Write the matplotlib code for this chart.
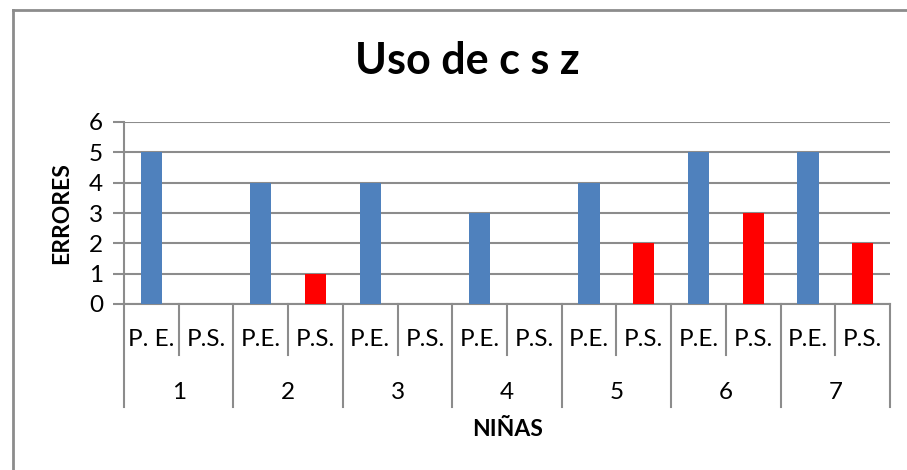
import matplotlib
matplotlib.use('Agg')
import matplotlib.pyplot as plt
from matplotlib.lines import Line2D

plt.rcParams['font.family'] = ['Lato', 'DejaVu Sans']

# Datos
ninas = ['1', '2', '3', '4', '5', '6', '7']
etiquetas = ['P. E.', 'P.S.', 'P.E.', 'P.S.', 'P.E.', 'P.S.', 'P.E.', 'P.S.',
             'P.E.', 'P.S.', 'P.E.', 'P.S.', 'P.E.', 'P.S.']
errores_pe = [5, 4, 4, 3, 4, 5, 5]
errores_ps = [0, 1, 0, 0, 2, 3, 2]

azul = '#4F81BD'
rojo = '#FF0000'
gris = '#8C8C8C'

W, H = 907, 470
fig = plt.figure(figsize=(W / 100, H / 100), dpi=100)

# plot area in pixels
x0, x1 = 124, 890
y_top, y_bot = 122, 304
ax = fig.add_axes([x0 / W, 1 - y_bot / H, (x1 - x0) / W, (y_bot - y_top) / H])

valores = []
colores = []
for pe, ps in zip(errores_pe, errores_ps):
    valores += [pe, ps]
    colores += [azul, rojo]

x = range(len(valores))
ax.bar(x, valores, width=0.39, color=colores, zorder=3)

ax.set_xlim(-0.5, len(valores) - 0.5)
ax.set_ylim(0, 6)
ax.set_yticks(range(0, 7))
ax.tick_params(axis='y', labelsize=17.5, length=8, width=1.5, color=gris, pad=7)
ax.set_xticks([])
ax.grid(axis='y', color=gris, linewidth=1.5, zorder=0)
for s in ['top', 'right']:
    ax.spines[s].set_visible(False)
ax.spines['left'].set_color(gris)
ax.spines['left'].set_linewidth(1.5)
ax.spines['bottom'].set_color(gris)
ax.spines['bottom'].set_linewidth(1.5)

# multi-level category axis
h = y_bot - y_top
y_in = -(355 - y_bot) / h
y_out = -(407 - y_bot) / h
y_lab1 = -(340 - y_bot) / h
y_lab2 = -(392 - y_bot) / h
trans = ax.get_xaxis_transform()
for i in range(len(valores) + 1):
    bottom = y_out if i % 2 == 0 else y_in
    ax.plot([i - 0.5, i - 0.5], [0, bottom], color=gris, lw=1.5,
            transform=trans, clip_on=False)
for i, lab in enumerate(etiquetas):
    ax.text(i, y_lab1, lab, transform=trans, ha='center', va='center', fontsize=17.5)
for j, n in enumerate(ninas):
    ax.text(2 * j + 0.5, y_lab2, n, transform=trans, ha='center', va='center', fontsize=17.5)

fig.text(62 / W, 1 - 213 / H, 'ERRORES', ha='center', va='center', rotation=90,
         fontsize=16.5, fontweight='bold')
fig.text(508 / W, 1 - 430 / H, 'NIÑAS', ha='center', va='center',
         fontsize=16.5, fontweight='bold')
fig.text(467 / W, 1 - 61 / H, 'Uso de c s z', ha='center', va='center',
         fontsize=31, fontweight='bold')

# chart border (top and left edges; the rest is cut off)
bx, by = 12.5 / W, 1 - 9.5 / H
fig.add_artist(Line2D([bx, 1.0], [by, by], transform=fig.transFigure, color=gris, lw=2))
fig.add_artist(Line2D([bx, bx], [0.0, by], transform=fig.transFigure, color=gris, lw=2))

fig.savefig('out.png', dpi=100)
